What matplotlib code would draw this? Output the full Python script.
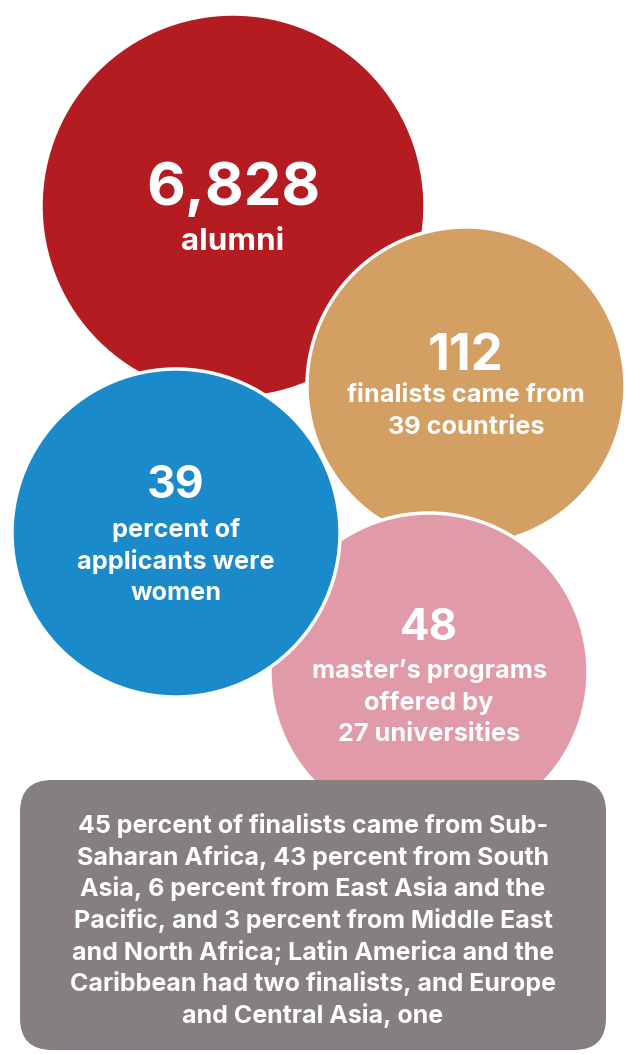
import matplotlib
matplotlib.use("Agg")
import matplotlib.pyplot as plt
from matplotlib.patches import Circle, FancyBboxPatch

plt.rcParams['font.family'] = ['Inter', 'DejaVu Sans']

# ---- data ----
stat_values = ["6,828", "112", "48", "39"]
stat_captions = [
    ["alumni"],
    ["finalists came from", "39 countries"],
    ["master\u2019s programs", "offered by", "27 universities"],
    ["percent of", "applicants were", "women"],
]
box_lines = [
    "45 percent of finalists came from Sub-",
    "Saharan Africa, 43 percent from South",
    "Asia, 6 percent from East Asia and the",
    "Pacific, and 3 percent from Middle East",
    "and North Africa; Latin America and the",
    "Caribbean had two finalists, and Europe",
    "and Central Asia, one",
]

# ---- layout / style ----
centers = [(233, 206), (466, 386), (429, 672), (176, 533)]
radii = [192, 159, 159, 164]
colors = ["#B51C22", "#D49F62", "#E19AA8", "#1A8ACB"]
num_base = [205, 370, 640, 498]
num_size = [43, 36.5, 31.5, 32]
cap_base = [250, 402, 678, 537]
cap_size = [22.5, 18.2, 18.2, 18.2]
line_gap = 31.7

W, H = 626, 1054
fig = plt.figure(figsize=(W / 100, H / 100), dpi=100)
ax = fig.add_axes([0, 0, 1, 1])
ax.set_xlim(0, W)
ax.set_ylim(H, 0)
ax.set_aspect('equal')
ax.axis('off')

for i, (c, r, col) in enumerate(zip(centers, radii, colors)):
    ax.add_patch(Circle(c, r, facecolor=col, edgecolor='white', linewidth=2.5, zorder=1 + i))
    ax.text(c[0], num_base[i], stat_values[i], ha='center', va='baseline', color='white',
            fontsize=num_size[i], fontweight='bold', zorder=10)
    for k, line in enumerate(stat_captions[i]):
        ax.text(c[0], cap_base[i] + k * line_gap, line, ha='center', va='baseline',
                color='white', fontsize=cap_size[i], fontweight='bold', zorder=10)

box = FancyBboxPatch((20, 780), 586, 270, boxstyle="round,pad=0,rounding_size=32",
                     facecolor="#867F7F", edgecolor='none', zorder=8)
ax.add_patch(box)
for k, line in enumerate(box_lines):
    ax.text(313, 833 + k * line_gap, line, ha='center', va='baseline', color='white',
            fontsize=18, fontweight='bold', zorder=10)

fig.savefig("out.png", dpi=100)
